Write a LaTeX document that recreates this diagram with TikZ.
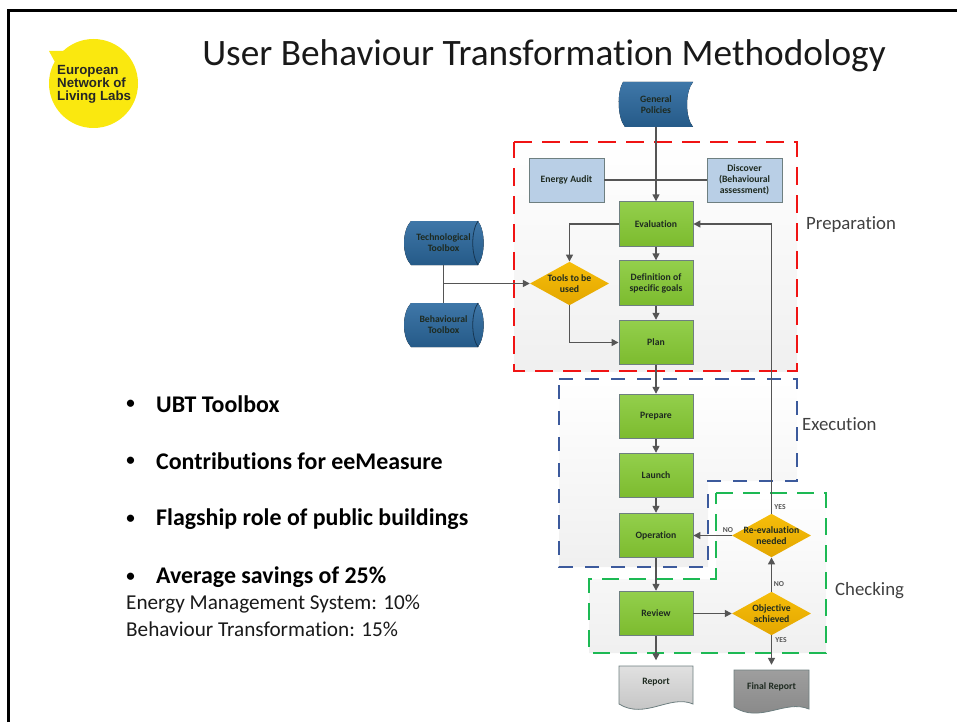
\documentclass[tikz,border=0pt]{standalone}
\usepackage{fontspec}
\setmainfont{Carlito}[Ligatures=NoCommon]
\newfontfamily\logofont{Liberation Sans}
\usetikzlibrary{shapes.geometric,arrows.meta,positioning,calc}
\definecolor{lineg}{HTML}{555555}
\definecolor{edgeg}{HTML}{6E7F80}
\definecolor{dblueT}{HTML}{3F77A8}
\definecolor{dblueB}{HTML}{255A88}
\definecolor{lblue}{HTML}{B9CFE6}
\definecolor{greenT}{HTML}{93CF4C}
\definecolor{greenB}{HTML}{7CBB2E}
\definecolor{orT}{HTML}{F6BE0A}
\definecolor{orB}{HTML}{E3A600}
\definecolor{logoy}{HTML}{FAE80F}
\definecolor{txt}{HTML}{1E2A20}
\definecolor{redg}{HTML}{F01414}
\definecolor{blueg}{HTML}{3C5A9C}
\definecolor{greeng}{HTML}{1DB954}
\tikzset{
  lab/.style={font=\fontsize{9.7}{11}\selectfont\bfseries,text=txt,align=center},
  slab/.style={font=\fontsize{7.6}{8}\selectfont\bfseries,text=lineg},
  procbox/.style={rectangle,draw=edgeg,line width=.9pt,top color=greenT,bottom color=greenB,minimum width=74pt,minimum height=44.5pt,inner sep=0pt,lab},
  infobox/.style={rectangle,draw=edgeg,line width=.9pt,fill=lblue,minimum width=75pt,minimum height=44pt,inner sep=0pt,lab},
  ghost/.style={rectangle,minimum width=#1,minimum height=44pt,inner sep=0pt,lab},
  decis/.style={diamond,draw=none,top color=orT,bottom color=orB,minimum width=79pt,minimum height=43.5pt,aspect=1.82,inner sep=0pt},
  flow/.style={draw=lineg,line width=1.5pt,-{Triangle[length=7pt,width=7pt]}},
  plainflow/.style={draw=lineg,line width=1.5pt},
  grp/.style={top color=white,bottom color=black!6,line width=1.9pt},
  side/.style={font=\fontsize{18.8}{22}\selectfont,text=black!75,anchor=west,inner sep=0pt},
  bul/.style={font=\fontsize{23.9}{28}\selectfont\bfseries,text=black,anchor=west,inner sep=0pt},
  dotb/.style={font=\fontsize{17}{20}\selectfont\bfseries,text=black,anchor=center,inner sep=0pt},
  note/.style={font=\fontsize{21.2}{25}\selectfont,text=black!90,anchor=west,inner sep=0pt},
  dark/.style={top color=dblueT,bottom color=dblueB,draw=none},
}
\begin{document}
\begin{tikzpicture}[x=1pt,y=-1pt]
\useasboundingbox (0,0) rectangle (957,722);
% slide frame
\draw[black,line width=2.6pt] (8.5,722) -- (8.5,10.5) -- (957,10.5);
% logo
\fill[logoy] (93.5,83.5) circle (44.5);
\fill[logoy] (49,51) -- (66,51) -- (56,64) -- cycle;
\node[font=\logofont\fontsize{13.3}{13}\selectfont\bfseries,align=left,anchor=west,inner sep=0pt,text=black!85] (logotext) at (57,84) {European\\Network of\\Living Labs};
% title
\node[font=\fontsize{37.3}{42}\selectfont,anchor=center,inner sep=0pt,text=black!90] (title) at (544,56) {User Behaviour Transformation Methodology};
% groups
\path[grp,draw=redg,dash pattern=on 18pt off 10pt] (514,142) -- (797,142) -- (797,371) -- (514,371) -- cycle;
\path[grp,draw=blueg,dash pattern=on 14pt off 12pt] (559,379) -- (797,379) -- (797,481) -- (708,481) -- (708,567) -- (559,567) -- cycle;
\path[grp,draw=greeng,dash pattern=on 17pt off 10pt] (716,493) -- (826,493) -- (826,653) -- (589,653) -- (589,579) -- (716,579) -- cycle;
% hand shapes behind their nodes
\fill[dark] (623,82) -- (693,82) .. controls (685,92) and (685,117) .. (693,127) -- (625,127) .. controls (617,117) and (617,92) .. (623,82) -- cycle;
\fill[dark] (411,221) -- (478,221) .. controls (485.5,231) and (485.5,255) .. (478,265) -- (411,265) .. controls (401.7,255) and (401.7,231) .. (411,221) -- cycle;
\draw[black!40!dblueB,line width=.8pt] (478,221) .. controls (471,231) and (471,255) .. (478,265);
\fill[dark] (411,303) -- (478,303) .. controls (485.5,313) and (485.5,337) .. (478,347) -- (411,347) .. controls (401.7,337) and (401.7,313) .. (411,303) -- cycle;
\draw[black!40!dblueB,line width=.8pt] (478,303) .. controls (471,313) and (471,337) .. (478,347);
\path[top color=black!12,bottom color=black!25,draw=edgeg,line width=.8pt] (619,666) -- (693,666) -- (693,704) .. controls (670,694) and (645,720) .. (619,704) -- cycle;
\path[top color=black!38,bottom color=black!48,draw=edgeg,line width=.8pt] (734,670) -- (809,670) -- (809,709) .. controls (785,699) and (760,724) .. (734,707) -- cycle;
% nodes
\node[ghost=74pt] (policies) at (656,104.5) {General\\Policies};
\node[infobox] (audit) at (566.5,180) {Energy Audit};
\node[infobox] (discover) at (744.5,180) {Discover\\(Behavioural\\assessment)};
\node[procbox] (eval) at (656,224) {Evaluation};
\node[procbox] (goals) at (656,283) {Definition of\\specific goals};
\node[procbox] (plan) at (656,342.5) {Plan};
\node[decis,label={[lab]center:Tools to be\\used}] (tools) at (569.5,283.5) {};
\node[ghost=79pt] (tech) at (443.5,243) {Technological\\Toolbox};
\node[ghost=79pt] (behav) at (443.5,325) {Behavioural\\Toolbox};
\node[procbox] (prepare) at (656,416.5) {Prepare};
\node[procbox] (launch) at (656,475.5) {Launch};
\node[procbox] (oper) at (656,535.5) {Operation};
\node[procbox] (review) at (656,613.5) {Review};
\node[decis,label={[lab]center:Re-evaluation\\needed}] (reeval) at (771.5,535.5) {};
\node[decis,label={[lab]center:Objective\\achieved}] (objective) at (771.5,613.5) {};
\node[ghost=74pt] (report) at (656,682.5) {Report};
\node[ghost=75pt] (final) at (771.5,687) {Final Report};
% connectors
\coordinate (jt) at (tech |- tools);
\draw[plainflow] (audit.east) -- (discover.west);
\draw[flow] (policies.south) -- (eval.north);
\draw[flow] (eval.west) -| (tools.north);
\draw[flow] (eval) -- (goals);
\draw[flow] (goals) -- (plan);
\draw[plainflow] (tech.south) -- (behav.north);
\draw[flow] (jt) -- (tools.west);
\draw[flow] (tools.south) |- (plan.west);
\draw[flow] (plan) -- (prepare);
\draw[flow] (prepare) -- (launch);
\draw[flow] (launch) -- (oper);
\draw[flow] (oper) -- (review);
\draw[flow] (review.south) -- (report.north);
\draw[flow] (review) -- (objective);
\draw[flow] (objective) -- (reeval);
\draw[flow] (objective.south) -- (final.north);
\draw[flow] (reeval.west) -- (oper.east);
\draw[flow] (reeval.north) |- (eval.east);
% branch labels
\node[slab] (y1) at (780,507) {YES};
\node[slab] (n1) at (728,530) {NO};
\node[slab] (n2) at (779,584) {NO};
\node[slab] (y2) at (781,640) {YES};
% side labels
\node[side] (prep) at (806,225) {Preparation};
\node[side] (exec) at (802,424) {Execution};
\node[side] (check) at (835,591) {Checking};
% bullets
\node[dotb] (b1) at (130.5,404) {•};
\node[bul] (t1) at (156,404) {UBT Toolbox};
\node[dotb] (b2) at (130.5,461) {•};
\node[bul] (t2) at (156,461) {Contributions for eeMeasure};
\node[dotb] (b3) at (130.5,519) {•};
\node[bul] (t3) at (156,519) {Flagship role of public buildings};
\node[dotb] (b4) at (130.5,577) {•};
\node[bul] (t4) at (156,577) {Average savings of 25\%};
\node[note] (n3) at (126,604) {Energy Management System: 10\%};
\node[note] (n4) at (126,629) {Behaviour Transformation: 15\%};
\end{tikzpicture}
\end{document}
